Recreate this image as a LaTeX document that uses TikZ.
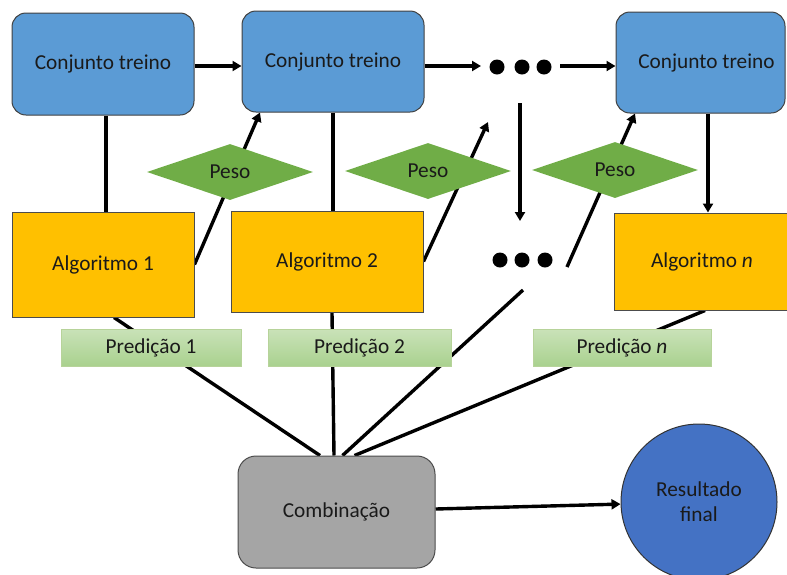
\documentclass[tikz,border=0pt]{standalone}
\usepackage{fontspec}
\setmainfont{Carlito}
\usetikzlibrary{shapes.geometric,arrows.meta,calc}
\pgfdeclarelayer{background}
\pgfsetlayers{background,main}
\definecolor{ctblue}{HTML}{5B9BD5}
\definecolor{algoorange}{HTML}{FFC000}
\definecolor{pesogreen}{HTML}{70AD47}
\definecolor{predtop}{HTML}{C9E2B8}
\definecolor{predbot}{HTML}{A9D18E}
\definecolor{predline}{HTML}{B7D39A}
\definecolor{combgray}{HTML}{A5A5A5}
\definecolor{resblue}{HTML}{4472C4}
\definecolor{txt}{HTML}{1A1A1A}
\tikzset{
  every node/.style={font=\fontsize{21.3}{25}\selectfont, text=txt},
  ctbox/.style={draw=black!75, line width=1pt, fill=ctblue, rounded corners=14pt, inner sep=0pt},
  algobox/.style={draw=black!70, line width=1pt, fill=algoorange, inner sep=0pt},
  predbox/.style={draw=predline, line width=0.8pt, top color=predtop, bottom color=predbot, minimum width=180pt, minimum height=37pt, inner sep=0pt},
  pesod/.style={diamond, fill=pesogreen, aspect=3, minimum width=166pt, minimum height=56pt, inner sep=0pt},
  dotc/.style={circle, fill=black, minimum size=15pt, inner sep=0pt},
  conn/.style={line width=3.4pt, black},
  arr/.style={conn, -{Triangle[length=9pt,width=10pt]}},
}
\begin{document}
\begin{tikzpicture}[x=1pt,y=-1pt]
\useasboundingbox (0,0) rectangle (787,574);
% training sets
\node[ctbox, minimum width=182pt, minimum height=102pt] (ct1) at (103,64) {Conjunto treino};
\node[ctbox, minimum width=182pt, minimum height=101pt] (ct2) at (333,61.5) {Conjunto treino};
\node[ctbox, minimum width=169pt, minimum height=101pt] (ct3) at (700.5,62.5) {\hspace*{12pt}Conjunto treino};
% algorithms
\node[algobox, minimum width=182pt, minimum height=105pt] (a1) at (103,264.5) {Algoritmo 1};
\node[algobox, minimum width=192pt, minimum height=101pt] (a2) at (327,261.5) {Algoritmo 2};
\node[algobox, minimum width=176pt, minimum height=97pt] (an) at (702,261.5) {Algoritmo \textit{n}};
% predictions
\node[predbox] (p1) at (151,347.5) {Predição 1};
\node[predbox, minimum width=183pt] (p2) at (359.5,348) {Predição 2};
\node[predbox, minimum width=178pt] (pn) at (622,348) {Predição \textit{n}};
% weights
\node[pesod] (w1) at (230,172) {Peso};
\node[pesod] (w2) at (428,171) {Peso};
\node[pesod] (w3) at (615,170) {Peso};
% dots
\node[dotc] (dt1) at (497,67) {};
\node[dotc] (dt2) at (522,67) {};
\node[dotc] (dt3) at (544,67) {};
\node[dotc] (db1) at (500,260) {};
\node[dotc] (db2) at (522,260) {};
\node[dotc] (db3) at (545,260) {};
% combination & result
\node[draw=black!70, line width=1pt, fill=combgray, rounded corners=18pt, minimum width=197pt, minimum height=112pt, inner sep=0pt] (comb) at (336.5,512) {Combinação};
\node[circle, draw=black!80, line width=1pt, fill=resblue, minimum size=156pt, inner sep=0pt, align=center] (res) at (699,502) {Resultado\\final};
% free ends
\coordinate (c1) at (488,122);
\coordinate (c2) at (567,267);
\coordinate (c3) at (481,66);
\coordinate (c4) at (560,66);
\coordinate (c5) at (520,103);
\coordinate (c6) at (520,221);
\coordinate (c7) at (523,290);
\begin{pgfonlayer}{background}
  % top row
  \draw[arr] ([yshift=-2pt]ct1.east) -- ([yshift=-2pt]ct1.east -| ct2.west);
  \draw[arr] (ct2.east |- c3) -- (c3);
  \draw[arr] (c4) -- (c4 -| ct3.west);
  \draw[arr] (c5) -- (c6);
  % training set to algorithm
  \draw[conn] ([xshift=3pt]ct1.south) -- ([xshift=3pt]ct1.south |- a1.north);
  \draw[conn] (ct2.south) -- (ct2.south |- a2.north);
  \draw[arr] ([xshift=7.5pt]ct3.south) -- ([xshift=7.5pt]ct3.south |- an.north);
  % weights
  \draw[arr] (a1.east) -- ([xshift=-73pt]ct2.south);
  \draw[arr] (a2.east) -- (c1);
  \draw[arr] (c2) -- ([xshift=-65.5pt]ct3.south);
  % to combination
  \draw[conn] ([xshift=11pt]a1.south) -- ([xshift=-16.5pt]comb.north);
  \draw[conn] ([xshift=5pt]a2.south) -- ([xshift=-2.5pt]comb.north);
  \draw[conn] (c7) -- ([xshift=6pt]comb.north);
  \draw[conn] ([xshift=3pt]an.south) -- ([xshift=18pt]comb.north);
  \draw[arr] ([yshift=3pt]comb.east) -- (res);
\end{pgfonlayer}
\end{tikzpicture}
\end{document}
